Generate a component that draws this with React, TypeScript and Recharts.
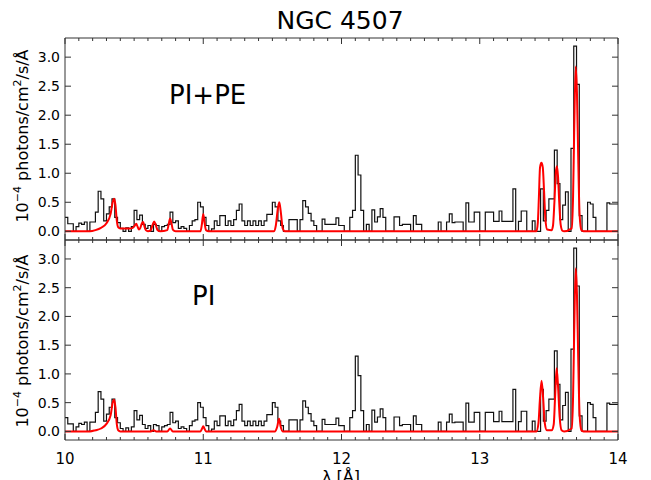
import React from 'react';
import { LineChart, Line, XAxis, YAxis } from 'recharts';

// observed spectrum: flux per 0.02 A bin, bins start at 10.00 A
const BIN_START = 10;
const BIN_WIDTH = 0.02;
const observedFlux = [
  0.24, 0.13, 0.13, 0.0, 0.08,
  0.14, 0.12, 0.16, 0.0, 0.16,
  0.16, 0.33, 0.69, 0.56, 0.18,
  0.3, 0.42, 0.56, 0.24, 0.15,
  0.05, 0.0, 0.06, 0.0, 0.08,
  0.36, 0.2, 0.28, 0.12, 0.05,
  0.1, 0.0, 0.12, 0.1, 0.0,
  0.08, 0.1, 0.12, 0.33, 0.15,
  0.18, 0.05, 0.08, 0.05, 0.0,
  0.1, 0.18, 0.2, 0.5, 0.42,
  0.24, 0.1, 0.0, 0.04, 0.18,
  0.1, 0.27, 0.27, 0.1, 0.18,
  0.1, 0.2, 0.36, 0.47, 0.18,
  0.1, 0.18, 0.1, 0.18, 0.1,
  0.18, 0.1, 0.18, 0.29, 0.29,
  0.5, 0.42, 0.18, 0.1, 0.0,
  0.0, 0.2, 0.2, 0.2, 0.0,
  0.2, 0.53, 0.42, 0.31, 0.18,
  0.1, 0.0, 0.0, 0.21, 0.12,
  0.12, 0.12, 0.12, 0.23, 0.1,
  0.1, 0.0, 0.0, 0.24, 0.36,
  1.31, 0.97, 0.36, 0.0, 0.12,
  0.0, 0.37, 0.16, 0.25, 0.39,
  0.24, 0.0, 0.0, 0.0, 0.25,
  0.25, 0.1, 0.12, 0.12, 0.12,
  0.0, 0.27, 0.12, 0.12, 0.0,
  0.0, 0.0, 0.0, 0.0, 0.0,
  0.16, 0.0, 0.0, 0.16, 0.3,
  0.15, 0.16, 0.16, 0.16, 0.0,
  0.49, 0.16, 0.16, 0.33, 0.33,
  0.0, 0.0, 0.33, 0.33, 0.33,
  0.17, 0.17, 0.35, 0.17, 0.17,
  0.17, 0.17, 0.73, 0.0, 0.17,
  0.35, 0.35, 0.0, 0.0, 0.18,
  0.0, 0.0, 0.73, 0.18, 0.36,
  0.56, 0.56, 1.4, 0.82, 0.2,
  0.45, 0.68, 0.0, 1.43, 3.19,
  2.53, 0.27, 0.0, 0.0, 0.5,
  0.47, 0.24, 0.0, 0.0, 0.0,
  0.0, 0.49, 0.47, 0.47, 0.47,
];

// model curves [wavelength, flux]
const modelPIPE: [number, number][] = [
  [10.0, 0], [10.18, 0], [10.22, 0.02], [10.26, 0.06], [10.3, 0.14], [10.33, 0.3],
  [10.345, 0.5], [10.355, 0.56], [10.365, 0.45], [10.375, 0.18], [10.385, 0.07],
  [10.4, 0.05], [10.47, 0.05], [10.49, 0.06], [10.505, 0.1], [10.515, 0.13],
  [10.525, 0.08], [10.535, 0.03], [10.545, 0.06], [10.555, 0.13], [10.565, 0.16],
  [10.575, 0.08], [10.585, 0.02], [10.6, 0], [10.62, 0.02], [10.635, 0.12],
  [10.645, 0.17], [10.655, 0.12], [10.67, 0.02], [10.69, 0], [10.74, 0.02],
  [10.75, 0.12], [10.76, 0.22], [10.77, 0.14], [10.78, 0.03], [10.8, 0],
  [10.98, 0], [10.99, 0.12], [11.0, 0.3], [11.01, 0.14], [11.02, 0.02], [11.04, 0],
  [11.51, 0], [11.525, 0.1], [11.54, 0.4], [11.55, 0.5], [11.56, 0.35],
  [11.575, 0.05], [11.59, 0],
  [13.41, 0], [13.42, 0.15], [13.428, 0.6], [13.436, 1.1], [13.446, 1.18],
  [13.456, 1.1], [13.465, 0.7], [13.475, 0.2], [13.488, 0.03], [13.52, 0.02],
  [13.53, 0.1], [13.54, 0.5], [13.55, 1.0], [13.558, 1.12], [13.566, 0.95],
  [13.575, 0.5], [13.585, 0.12], [13.598, 0.01], [13.61, 0],
  [13.665, 0.05], [13.675, 0.6], [13.683, 1.7], [13.694, 2.84], [13.703, 2.4],
  [13.712, 1.3], [13.722, 0.3], [13.735, 0.02], [13.75, 0], [14.0, 0],
];

const modelPI: [number, number][] = [
  [10.0, 0], [10.18, 0], [10.22, 0.02], [10.26, 0.05], [10.3, 0.13], [10.33, 0.28],
  [10.345, 0.5], [10.355, 0.55], [10.365, 0.42], [10.375, 0.12], [10.385, 0.02],
  [10.4, 0], [10.62, 0], [10.64, 0.02], [10.66, 0], [10.74, 0], [10.76, 0.05],
  [10.78, 0], [10.98, 0], [10.99, 0.04], [11.0, 0.09], [11.01, 0.04], [11.02, 0],
  [11.52, 0], [11.535, 0.08], [11.548, 0.22], [11.56, 0.08], [11.575, 0],
  [13.41, 0], [13.425, 0.15], [13.435, 0.55], [13.447, 0.88], [13.458, 0.6],
  [13.47, 0.15], [13.485, 0.02], [13.52, 0.02], [13.535, 0.12], [13.545, 0.6],
  [13.556, 1.1], [13.566, 0.8], [13.578, 0.25], [13.592, 0.02], [13.61, 0],
  [13.665, 0.05], [13.675, 0.6], [13.683, 1.7], [13.694, 2.84], [13.703, 2.4],
  [13.712, 1.3], [13.722, 0.3], [13.735, 0.02], [13.75, 0], [14.0, 0],
];

const xTicks = Array.from({ length: 41 }, (_, i) => +(10 + i * 0.1).toFixed(1));
const yTicks = [0, 0.5, 1, 1.5, 2, 2.5, 3];
const Y_DOMAIN: [number, number] = [-0.15, 3.33];

const FONT = 'DejaVu Sans';
const AXIS = '#333';

const histData = observedFlux.map((v, i) => ({ x: +(BIN_START + i * BIN_WIDTH).toFixed(2), y: v }));
histData.push({ x: 14, y: observedFlux[observedFlux.length - 1] });

const isMajor = (v: number) => Math.abs(v - Math.round(v)) < 1e-6;

const xTick = (dir: number, showLabel: boolean) => (props: any) => {
  const { x, y, payload } = props;
  const v = payload.value;
  const len = isMajor(v) ? 6 : 3;
  return (
    <g>
      <line x1={x} y1={y} x2={x} y2={y + dir * len} stroke={AXIS} strokeWidth={1} />
      {showLabel && isMajor(v) && (
        <text x={x} y={y + 24} textAnchor="middle" fontSize={15} fontFamily={FONT} fill="#000">
          {Math.round(v)}
        </text>
      )}
    </g>
  );
};

const yTick = (dir: number, showLabel: boolean) => (props: any) => {
  const { x, y, payload } = props;
  return (
    <g>
      <line x1={x} y1={y} x2={x + dir * 6} y2={y} stroke={AXIS} strokeWidth={1} />
      {showLabel && (
        <text x={x - 5} y={y + 5} textAnchor="end" fontSize={14} fontFamily={FONT} fill="#000">
          {payload.value.toFixed(1)}
        </text>
      )}
    </g>
  );
};

function Panel({ model, top, height, margin, showXLabels }: any) {
  const modelData = model.map(([x, y]: [number, number]) => ({ x, y }));
  const axisLine = { stroke: AXIS, strokeWidth: 1 };
  return (
    <div style={{ position: 'absolute', left: 0, top, width: 651, height }}>
      <LineChart width={651} height={height} margin={margin}>
        <XAxis xAxisId="b" dataKey="x" type="number" domain={[10, 14]} allowDataOverflow
          ticks={xTicks} interval={0} height={1} tickSize={0} tickMargin={0} tickLine={false}
          axisLine={axisLine} tick={xTick(-1, showXLabels)} />
        <XAxis xAxisId="t" orientation="top" dataKey="x" type="number" domain={[10, 14]} allowDataOverflow
          ticks={xTicks} interval={0} height={1} tickSize={0} tickMargin={0} tickLine={false}
          axisLine={axisLine} tick={xTick(1, false)} />
        <YAxis yAxisId="l" type="number" domain={Y_DOMAIN} allowDataOverflow ticks={yTicks} interval={0}
          width={1} tickSize={0} tickMargin={0} tickLine={false} axisLine={axisLine} tick={yTick(1, true)} />
        <YAxis yAxisId="r" orientation="right" type="number" domain={Y_DOMAIN} allowDataOverflow ticks={yTicks}
          interval={0} width={1} tickSize={0} tickMargin={0} tickLine={false} axisLine={axisLine}
          tick={yTick(-1, false)} />
        <Line data={histData} xAxisId="b" yAxisId="l" dataKey="y" type="stepAfter" stroke="#111"
          strokeWidth={1.2} dot={false} activeDot={false} isAnimationActive={false} />
        <Line data={modelData} xAxisId="t" yAxisId="r" dataKey="y" type="monotone" stroke="#ff0000"
          strokeWidth={2} dot={false} activeDot={false} isAnimationActive={false} />
      </LineChart>
    </div>
  );
}

function YLabel({ cy }: { cy: number }) {
  return (
    <text transform="rotate(-90)" x={-cy} y={28} textAnchor="middle" fontSize={16} fontFamily={FONT} fill="#000">
      10
      <tspan fontSize={11} dy={-7}>−4</tspan>
      <tspan fontSize={16} dy={7}> photons/cm</tspan>
      <tspan fontSize={11} dy={-7}>2</tspan>
      <tspan fontSize={16} dy={7}>/s/Å</tspan>
    </text>
  );
}

export default function App() {
  return (
    <div style={{ position: 'absolute', left: 0, top: 0, width: 651, height: 480, background: '#fff', overflow: 'hidden' }}>
      <Panel model={modelPIPE} top={0} height={245} margin={{ top: 37, right: 32, bottom: 4, left: 64 }} showXLabels={false} />
      <Panel model={modelPI} top={235} height={245} margin={{ top: 4, right: 32, bottom: 39, left: 64 }} showXLabels />
      <svg width={651} height={480} style={{ position: 'absolute', left: 0, top: 0, pointerEvents: 'none' }}>
        <text x={340} y={29} textAnchor="middle" fontSize={25} fontFamily={FONT} fill="#000">NGC 4507</text>
        <text x={169} y={104} fontSize={26} fontFamily={FONT} fill="#000">PI+PE</text>
        <text x={192} y={305} fontSize={26} fontFamily={FONT} fill="#000">PI</text>
        <YLabel cy={136} />
        <YLabel cy={341} />
        <text x={341} y={482} textAnchor="middle" fontSize={16} fontFamily={FONT} fill="#000">λ [Å]</text>
      </svg>
    </div>
  );
}
